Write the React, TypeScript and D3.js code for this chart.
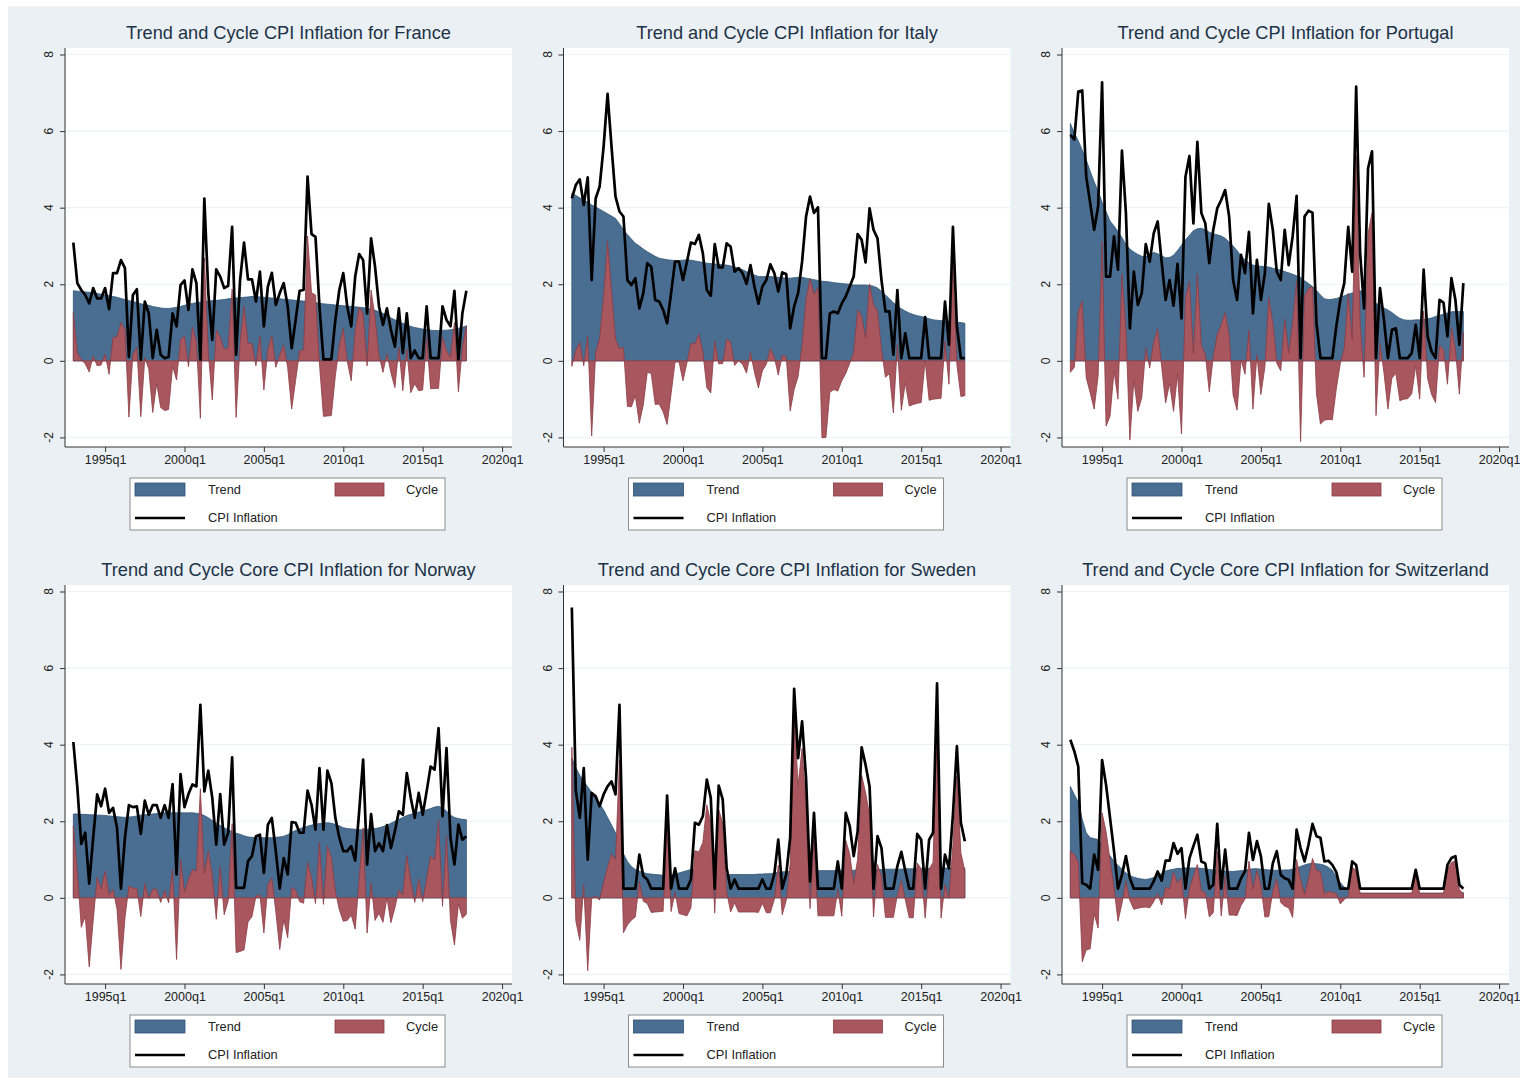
import React, { useRef, useLayoutEffect } from 'react';
import * as d3 from 'd3';

// quarters counted from 1995q1 (= 0); every sample runs 1993q1 .. 2017q4
const firstQuarter = -8;
const xTicks = [0, 20, 40, 60, 80, 100];
const xTickLabels = ['1995q1', '2000q1', '2005q1', '2010q1', '2015q1', '2020q1'];
const yTicks = [-2, 0, 2, 4, 6, 8];
const legendLabels = ['Trend', 'Cycle', 'CPI Inflation'];

const titles = [
    'Trend and Cycle CPI Inflation for France',
    'Trend and Cycle CPI Inflation for Italy',
    'Trend and Cycle CPI Inflation for Portugal',
    'Trend and Cycle Core CPI Inflation for Norway',
    'Trend and Cycle Core CPI Inflation for Sweden',
    'Trend and Cycle Core CPI Inflation for Switzerland'
];

const franceInflation = [
    3.09, 2.03, 1.85, 1.72, 1.5, 1.9, 1.63, 1.63, 1.9, 1.35,
    2.29, 2.29, 2.63, 2.42, 0.1, 1.72, 1.87, 0.03, 1.55, 1.24,
    0.07, 0.81, 0.16, 0.07, 0.1, 1.24, 0.9, 1.98, 2.1, 1.33,
    2.39, 2.03, 0.03, 4.24, 1.77, 0.55, 2.39, 2.2, 1.9, 1.96,
    3.5, 0.16, 2.1, 3.09, 2.13, 2.13, 1.55, 2.33, 0.9, 1.94,
    2.3, 1.46, 1.77, 2.03, 1.42, 0.33, 1.07, 1.83, 1.85, 4.81,
    3.31, 3.24, 1.42, 0.04, 0.04, 0.04, 1.07, 1.85, 2.29, 1.42,
    0.9, 2.2, 2.79, 2.63, 1.24, 3.2, 2.46, 1.42, 0.94, 1.37,
    0.81, 0.37, 1.37, 0.2, 1.24, 0.07, 0.27, 0.07, 0.07, 1.42,
    0.07, 0.07, 0.07, 1.42, 1.07, 0.9, 1.83, 0.04, 1.24, 1.83
];
const franceTrend = [
    1.83, 1.82, 1.81, 1.8, 1.79, 1.77, 1.76, 1.74, 1.72, 1.7,
    1.68, 1.66, 1.63, 1.6, 1.57, 1.55, 1.52, 1.49, 1.47, 1.45,
    1.42, 1.4, 1.38, 1.37, 1.37, 1.38, 1.4, 1.42, 1.45, 1.48,
    1.5, 1.52, 1.53, 1.55, 1.56, 1.57, 1.58, 1.59, 1.6, 1.62,
    1.63, 1.64, 1.65, 1.66, 1.67, 1.68, 1.68, 1.67, 1.66, 1.65,
    1.64, 1.63, 1.62, 1.61, 1.6, 1.59, 1.58, 1.57, 1.56, 1.55,
    1.53, 1.52, 1.5, 1.49, 1.48, 1.47, 1.46, 1.45, 1.44, 1.43,
    1.42, 1.41, 1.4, 1.39, 1.37, 1.35, 1.32, 1.28, 1.24, 1.18,
    1.12, 1.07, 1.02, 0.98, 0.94, 0.9, 0.87, 0.85, 0.83, 0.82,
    0.8, 0.79, 0.79, 0.8, 0.8, 0.81, 0.83, 0.85, 0.88, 0.91
];
const franceCycle = [
    1.26, 0.21, 0.04, -0.08, -0.29, 0.13, -0.13, -0.11, 0.18, -0.35,
    0.61, 0.63, 1.0, 0.82, -1.47, 0.17, 0.35, -1.46, 0.08, -0.21,
    -1.35, -0.59, -1.22, -1.3, -1.27, -0.14, -0.5, 0.56, 0.65, -0.15,
    0.89, 0.51, -1.5, 2.69, 0.21, -1.02, 0.81, 0.61, 0.3, 0.34,
    1.87, -1.48, 0.45, 1.43, 0.46, 0.45, -0.13, 0.66, -0.76, 0.29,
    0.66, -0.17, 0.15, 0.42, -0.18, -1.26, -0.51, 0.26, 0.29, 3.26,
    1.78, 1.72, -0.08, -1.45, -1.44, -1.43, -0.39, 0.4, 0.85, -0.01,
    -0.52, 0.79, 1.39, 1.24, -0.13, 1.85, 1.14, 0.14, -0.3, 0.19,
    -0.31, -0.7, 0.35, -0.78, 0.3, -0.83, -0.6, -0.78, -0.76, 0.6,
    -0.73, -0.72, -0.72, 0.62, 0.27, 0.09, 1.0, -0.81, 0.36, 0.92
];

const italyInflation = [
    4.24, 4.59, 4.74, 4.07, 4.79, 2.11, 4.24, 4.55, 5.59, 6.97,
    5.59, 4.29, 3.9, 3.77, 2.11, 1.98, 2.16, 1.37, 1.77, 2.55,
    2.46, 1.59, 1.55, 1.33, 0.98, 1.77, 2.59, 2.59, 2.11, 2.59,
    3.09, 3.05, 3.29, 2.81, 1.85, 1.7, 3.05, 2.44, 2.44, 3.07,
    2.98, 2.33, 2.42, 2.29, 2.01, 2.5, 1.94, 1.49, 1.94, 2.11,
    2.52, 2.29, 1.81, 2.31, 2.27, 0.85, 1.42, 1.77, 2.59, 3.77,
    4.29, 3.86, 4.01, 0.07, 0.07, 1.24, 1.29, 1.24, 1.5, 1.68,
    1.94, 2.2, 3.31, 3.16, 2.57, 3.98, 3.42, 3.2, 2.11, 1.29,
    1.29, 0.16, 1.85, 0.07, 0.72, 0.07, 0.07, 0.07, 0.07, 1.14,
    0.07, 0.07, 0.07, 0.07, 1.55, 0.42, 3.5, 0.9, 0.07, 0.07
];
const italyTrend = [
    4.38, 4.32, 4.26, 4.2, 4.14, 4.07, 4.02, 3.96, 3.9, 3.84,
    3.78, 3.72, 3.58, 3.42, 3.3, 3.18, 3.07, 3.0, 2.92, 2.85,
    2.79, 2.73, 2.68, 2.66, 2.64, 2.63, 2.62, 2.62, 2.63, 2.64,
    2.63, 2.61, 2.59, 2.57, 2.55, 2.54, 2.53, 2.52, 2.51, 2.5,
    2.48, 2.45, 2.42, 2.38, 2.33, 2.28, 2.24, 2.2, 2.2, 2.2,
    2.2, 2.19, 2.18, 2.17, 2.16, 2.16, 2.17, 2.18, 2.18, 2.16,
    2.14, 2.12, 2.1, 2.08, 2.07, 2.06, 2.04, 2.03, 2.02, 2.01,
    2.0, 1.98, 1.98, 1.98, 1.98, 1.97, 1.95, 1.9, 1.82, 1.72,
    1.62, 1.52, 1.43, 1.36, 1.3, 1.25, 1.21, 1.18, 1.16, 1.13,
    1.1, 1.07, 1.06, 1.05, 1.04, 1.03, 1.02, 1.01, 1.0, 0.98
];
const italyCycle = [
    -0.14, 0.27, 0.48, -0.13, 0.65, -1.96, 0.22, 0.59, 1.69, 3.13,
    1.81, 0.57, 0.32, 0.35, -1.19, -1.2, -0.91, -1.63, -1.15, -0.3,
    -0.33, -1.14, -1.13, -1.33, -1.66, -0.86, -0.03, -0.03, -0.52, -0.05,
    0.46, 0.44, 0.7, 0.24, -0.7, -0.84, 0.52, -0.08, -0.07, 0.57,
    0.5, -0.12, 0.0, -0.09, -0.32, 0.22, -0.3, -0.71, -0.26, -0.09,
    0.32, 0.1, -0.37, 0.14, 0.11, -1.31, -0.75, -0.41, 0.41, 1.61,
    2.15, 1.74, 1.91, -2.01, -2.0, -0.82, -0.75, -0.79, -0.52, -0.33,
    -0.06, 0.22, 1.33, 1.18, 0.59, 2.01, 1.47, 1.3, 0.29, -0.43,
    -0.33, -1.36, 0.42, -1.29, -0.58, -1.18, -1.14, -1.11, -1.09, 0.01,
    -1.03, -1.0, -0.99, -0.98, 0.51, -0.61, 2.48, -0.11, -0.93, -0.91
];

const portugalInflation = [
    5.9, 5.78, 7.03, 7.06, 4.81, 4.12, 3.42, 4.03, 7.27, 2.2,
    2.2, 3.25, 2.38, 5.49, 3.86, 0.85, 2.33, 1.46, 1.77, 3.05,
    2.59, 3.33, 3.64, 2.59, 1.59, 2.11, 1.44, 2.53, 1.11, 4.81,
    5.35, 3.59, 5.72, 3.86, 3.59, 2.55, 3.42, 3.98, 4.2, 4.46,
    3.77, 2.11, 1.59, 2.77, 2.29, 3.37, 1.24, 2.64, 1.59, 2.29,
    4.1, 3.42, 2.33, 2.11, 3.42, 2.5, 3.25, 4.31, 0.07, 3.77,
    3.92, 3.87, 0.98, 0.07, 0.07, 0.07, 0.07, 0.9, 1.59, 2.03,
    3.5, 2.33, 7.16, 2.81, 1.37, 5.03, 5.47, 0.07, 1.9, 1.07,
    0.07, 0.81, 0.85, 0.07, 0.07, 0.07, 0.2, 0.94, 0.07, 2.38,
    0.64, 0.24, 0.07, 1.59, 1.52, 0.64, 2.16, 1.59, 0.42, 2.03
];
const portugalTrend = [
    6.2, 5.95, 5.75, 5.5, 5.25, 4.95, 4.68, 4.42, 4.15, 3.9,
    3.65, 3.52, 3.38, 3.22, 3.04, 2.92, 2.84, 2.78, 2.73, 2.72,
    2.78, 2.83, 2.8, 2.74, 2.69, 2.7, 2.76, 2.88, 3.02, 3.16,
    3.28, 3.4, 3.45, 3.46, 3.42, 3.36, 3.32, 3.29, 3.26, 3.2,
    3.1, 3.0, 2.88, 2.74, 2.64, 2.56, 2.5, 2.48, 2.47, 2.46,
    2.45, 2.42, 2.39, 2.37, 2.33, 2.3, 2.26, 2.22, 2.18, 2.09,
    2.02, 1.94, 1.84, 1.72, 1.62, 1.6, 1.61, 1.63, 1.66, 1.7,
    1.74, 1.77, 1.8, 1.83, 1.8, 1.7, 1.6, 1.5, 1.44, 1.38,
    1.33, 1.26, 1.18, 1.11, 1.07, 1.06, 1.06, 1.07, 1.07, 1.08,
    1.1, 1.12, 1.16, 1.19, 1.22, 1.25, 1.28, 1.29, 1.29, 1.29
];
const portugalCycle = [
    -0.3, -0.17, 1.28, 1.56, -0.44, -0.83, -1.26, -0.39, 3.12, -1.7,
    -1.45, -0.27, -1.0, 2.27, 0.82, -2.07, -0.51, -1.32, -0.96, 0.33,
    -0.19, 0.5, 0.84, -0.15, -1.1, -0.59, -1.32, -0.35, -1.91, 1.65,
    2.07, 0.19, 2.27, 0.4, 0.17, -0.81, 0.1, 0.69, 0.94, 1.26,
    0.67, -0.89, -1.29, 0.03, -0.35, 0.81, -1.26, 0.16, -0.88, -0.17,
    1.65, 1.0, -0.06, -0.26, 1.09, 0.2, 0.99, 2.09, -2.11, 1.68,
    1.9, 1.93, -0.86, -1.65, -1.55, -1.53, -1.54, -0.73, -0.07, 0.33,
    1.76, 0.56, 5.36, 0.98, -0.43, 3.33, 3.87, -1.43, 0.46, -0.31,
    -1.26, -0.45, -0.33, -1.04, -1.0, -0.99, -0.86, -0.13, -1.0, 1.3,
    -0.46, -0.88, -1.09, 0.4, 0.3, -0.61, 0.88, 0.3, -0.87, 0.74
];

const norwayInflation = [
    4.07, 2.9, 1.41, 1.7, 0.37, 1.57, 2.7, 2.39, 2.85, 2.22,
    2.35, 1.83, 0.24, 1.57, 2.42, 2.37, 2.39, 1.67, 2.54, 2.17,
    2.42, 2.42, 2.09, 2.42, 2.09, 2.97, 0.61, 3.23, 2.37, 2.71,
    2.96, 2.91, 5.04, 2.78, 3.32, 2.61, 1.39, 2.71, 1.39, 1.7,
    3.67, 0.26, 0.26, 0.26, 0.96, 1.09, 1.61, 1.65, 0.65, 1.91,
    2.09, 1.22, 0.24, 1.04, 0.61, 1.98, 1.96, 1.7, 1.7, 2.8,
    2.43, 1.78, 3.39, 1.78, 3.32, 3.0, 2.09, 1.57, 1.22, 1.22,
    1.35, 0.97, 2.26, 3.61, 0.87, 2.19, 1.22, 1.43, 1.22, 1.9,
    1.3, 1.74, 2.26, 2.17, 3.26, 2.61, 2.09, 2.74, 2.17, 2.78,
    3.43, 3.35, 4.43, 2.13, 3.91, 1.57, 0.87, 1.91, 1.52, 1.61
];
const norwayTrend = [
    2.19, 2.19, 2.18, 2.18, 2.17, 2.17, 2.16, 2.16, 2.15, 2.14,
    2.13, 2.12, 2.11, 2.1, 2.11, 2.12, 2.14, 2.16, 2.17, 2.18,
    2.19, 2.2, 2.21, 2.22, 2.22, 2.22, 2.22, 2.22, 2.22, 2.22,
    2.22, 2.21, 2.19, 2.15, 2.09, 2.02, 1.95, 1.89, 1.83, 1.78,
    1.73, 1.69, 1.66, 1.62, 1.59, 1.58, 1.57, 1.57, 1.57, 1.57,
    1.57, 1.58, 1.59, 1.61, 1.65, 1.71, 1.76, 1.8, 1.84, 1.87,
    1.9, 1.93, 1.94, 1.95, 1.96, 1.95, 1.92, 1.88, 1.83, 1.81,
    1.8, 1.79, 1.78, 1.78, 1.79, 1.8, 1.81, 1.83, 1.86, 1.9,
    1.95, 2.0, 2.05, 2.1, 2.15, 2.18, 2.21, 2.24, 2.27, 2.3,
    2.33, 2.37, 2.39, 2.35, 2.27, 2.16, 2.1, 2.07, 2.05, 2.04
];
const norwayCycle = [
    1.88, 0.71, -0.77, -0.48, -1.8, -0.6, 0.54, 0.23, 0.7, 0.08,
    0.22, -0.29, -1.87, -0.53, 0.31, 0.25, 0.25, -0.49, 0.37, -0.01,
    0.23, 0.22, -0.12, 0.2, -0.13, 0.75, -1.61, 1.01, 0.15, 0.49,
    0.74, 0.7, 2.85, 0.63, 1.23, 0.59, -0.56, 0.82, -0.44, -0.08,
    1.94, -1.43, -1.4, -1.36, -0.63, -0.49, 0.04, 0.08, -0.92, 0.34,
    0.52, -0.36, -1.35, -0.57, -1.04, 0.27, 0.2, -0.1, -0.14, 0.93,
    0.53, -0.15, 1.45, -0.17, 1.36, 1.05, 0.17, -0.31, -0.61, -0.59,
    -0.45, -0.82, 0.48, 1.83, -0.92, 0.39, -0.59, -0.4, -0.64, 0.0,
    -0.65, -0.26, 0.21, 0.07, 1.11, 0.43, -0.12, 0.5, -0.1, 0.48,
    1.1, 0.98, 2.04, -0.22, 1.64, -0.59, -1.23, -0.16, -0.53, -0.43
];

const swedenInflation = [
    7.58, 2.8, 2.09, 3.39, 1.0, 2.74, 2.65, 2.39, 2.7, 2.91,
    3.04, 2.7, 5.04, 0.24, 0.24, 0.24, 0.24, 1.13, 0.57, 0.48,
    0.24, 0.24, 0.24, 0.24, 2.67, 0.24, 0.77, 0.24, 0.24, 0.24,
    0.48, 1.96, 1.91, 2.13, 3.09, 2.61, 0.24, 2.93, 2.57, 0.77,
    0.24, 0.48, 0.24, 0.24, 0.24, 0.24, 0.24, 0.24, 0.48, 0.24,
    0.24, 0.61, 1.52, 0.24, 0.61, 1.57, 5.46, 3.65, 4.61, 3.13,
    0.43, 2.22, 0.24, 0.24, 0.24, 0.24, 0.24, 0.95, 0.24, 2.22,
    1.87, 1.09, 1.74, 3.93, 3.47, 2.91, 0.24, 1.61, 1.3, 0.24,
    0.24, 0.24, 0.83, 1.2, 0.71, 0.24, 0.24, 1.67, 1.52, 0.24,
    1.52, 1.7, 5.6, 0.24, 1.13, 0.77, 2.17, 3.96, 1.96, 1.48
];
const swedenTrend = [
    3.65, 3.4, 3.2, 3.05, 2.9, 2.75, 2.6, 2.45, 2.3, 2.1,
    1.9, 1.7, 1.45, 1.15, 0.95, 0.82, 0.74, 0.7, 0.66, 0.63,
    0.62, 0.61, 0.6, 0.59, 0.59, 0.6, 0.62, 0.65, 0.68, 0.71,
    0.74, 0.73, 0.71, 0.68, 0.66, 0.65, 0.64, 0.63, 0.62, 0.61,
    0.61, 0.61, 0.61, 0.61, 0.61, 0.61, 0.61, 0.62, 0.62, 0.63,
    0.63, 0.65, 0.67, 0.68, 0.68, 0.69, 0.7, 0.7, 0.71, 0.71,
    0.71, 0.71, 0.71, 0.71, 0.71, 0.71, 0.71, 0.72, 0.72, 0.72,
    0.72, 0.72, 0.73, 0.73, 0.73, 0.74, 0.74, 0.74, 0.74, 0.75,
    0.75, 0.75, 0.75, 0.75, 0.76, 0.76, 0.76, 0.76, 0.76, 0.77,
    0.77, 0.77, 0.77, 0.77, 0.78, 0.78, 0.78, 0.78, 0.78, 0.78
];
const swedenCycle = [
    3.93, -0.6, -1.11, 0.34, -1.9, -0.01, 0.05, -0.06, 0.4, 0.81,
    1.14, 1.0, 3.59, -0.91, -0.71, -0.58, -0.5, 0.43, -0.09, -0.15,
    -0.38, -0.37, -0.36, -0.35, 2.08, -0.36, 0.15, -0.41, -0.44, -0.47,
    -0.26, 1.23, 1.2, 1.45, 2.43, 1.96, -0.4, 2.3, 1.95, 0.16,
    -0.37, -0.13, -0.37, -0.37, -0.37, -0.37, -0.37, -0.38, -0.14, -0.39,
    -0.39, -0.04, 0.85, -0.44, -0.07, 0.88, 4.76, 2.95, 3.9, 2.42,
    -0.28, 1.51, -0.47, -0.47, -0.47, -0.47, -0.47, 0.23, -0.48, 1.5,
    1.15, 0.37, 1.01, 3.2, 2.74, 2.17, -0.5, 0.87, 0.56, -0.51,
    -0.51, -0.51, 0.08, 0.45, -0.05, -0.52, -0.52, 0.91, 0.76, -0.53,
    0.75, 0.93, 4.83, -0.53, 0.35, -0.01, 1.39, 3.18, 1.18, 0.7
];

const switzerlandInflation = [
    4.13, 3.83, 3.43, 0.38, 0.34, 0.24, 1.13, 0.73, 3.6, 2.95,
    2.09, 1.22, 0.24, 0.6, 1.09, 0.51, 0.24, 0.24, 0.24, 0.24,
    0.24, 0.43, 0.69, 0.45, 0.97, 0.97, 1.43, 1.15, 1.3, 0.24,
    1.03, 1.35, 1.65, 0.95, 0.9, 0.24, 0.34, 1.93, 0.24, 1.26,
    0.24, 0.24, 0.24, 0.51, 0.69, 1.7, 0.99, 1.48, 1.09, 0.24,
    0.24, 0.9, 1.22, 0.6, 0.51, 0.47, 0.24, 1.78, 1.3, 0.95,
    1.39, 1.93, 1.61, 1.57, 0.95, 0.97, 0.86, 0.67, 0.24, 0.24,
    0.24, 0.95, 0.86, 0.24, 0.24, 0.24, 0.24, 0.24, 0.24, 0.24,
    0.24, 0.24, 0.24, 0.24, 0.24, 0.24, 0.24, 0.73, 0.24, 0.24,
    0.24, 0.24, 0.24, 0.24, 0.24, 0.86, 1.04, 1.09, 0.34, 0.24
];
const switzerlandTrend = [
    2.91, 2.7, 2.5, 2.05, 1.7, 1.57, 1.55, 1.52, 1.38, 1.22,
    1.1, 0.95, 0.85, 0.75, 0.65, 0.58, 0.54, 0.51, 0.49, 0.48,
    0.5, 0.53, 0.58, 0.64, 0.7, 0.73, 0.75, 0.77, 0.77, 0.78,
    0.78, 0.78, 0.78, 0.77, 0.76, 0.74, 0.73, 0.72, 0.71, 0.7,
    0.69, 0.69, 0.7, 0.71, 0.72, 0.74, 0.76, 0.76, 0.75, 0.74,
    0.73, 0.72, 0.72, 0.72, 0.73, 0.73, 0.75, 0.78, 0.82, 0.86,
    0.89, 0.9, 0.89, 0.88, 0.85, 0.8, 0.72, 0.55, 0.4, 0.28,
    0.2, 0.16, 0.14, 0.12, 0.12, 0.12, 0.12, 0.12, 0.12, 0.12,
    0.12, 0.12, 0.12, 0.12, 0.12, 0.12, 0.12, 0.12, 0.12, 0.12,
    0.12, 0.12, 0.12, 0.12, 0.12, 0.12, 0.12, 0.12, 0.12, 0.14
];
const switzerlandCycle = [
    1.22, 1.13, 0.93, -1.67, -1.36, -1.33, -0.42, -0.79, 2.22, 1.73,
    0.99, 0.27, -0.61, -0.15, 0.44, -0.07, -0.3, -0.27, -0.25, -0.24,
    -0.26, -0.1, 0.11, -0.19, 0.27, 0.24, 0.68, 0.38, 0.53, -0.54,
    0.25, 0.57, 0.87, 0.18, 0.14, -0.5, -0.39, 1.21, -0.47, 0.56,
    -0.45, -0.45, -0.46, -0.2, -0.03, 0.96, 0.23, 0.72, 0.34, -0.5,
    -0.49, 0.18, 0.5, -0.12, -0.22, -0.26, -0.51, 1.0, 0.48, 0.09,
    0.5, 1.03, 0.72, 0.69, 0.1, 0.17, 0.14, 0.12, -0.16, -0.04,
    0.04, 0.79, 0.72, 0.12, 0.12, 0.12, 0.12, 0.12, 0.12, 0.12,
    0.12, 0.12, 0.12, 0.12, 0.12, 0.12, 0.12, 0.61, 0.12, 0.12,
    0.12, 0.12, 0.12, 0.12, 0.12, 0.74, 0.92, 0.97, 0.22, 0.1
];

const panels = [
    { title: titles[0], trend: franceTrend, cycle: franceCycle, inflation: franceInflation },
    { title: titles[1], trend: italyTrend, cycle: italyCycle, inflation: italyInflation },
    { title: titles[2], trend: portugalTrend, cycle: portugalCycle, inflation: portugalInflation },
    { title: titles[3], trend: norwayTrend, cycle: norwayCycle, inflation: norwayInflation },
    { title: titles[4], trend: swedenTrend, cycle: swedenCycle, inflation: swedenInflation },
    { title: titles[5], trend: switzerlandTrend, cycle: switzerlandCycle, inflation: switzerlandInflation }
];

const colors = {
    background: '#eaf0f3',
    grid: '#edf2f4',
    trend: '#4a6e91',
    trendEdge: '#2f5476',
    cycle: '#a9575f',
    cycleEdge: '#8c3b44',
    inflation: '#000000',
    title: '#1c3247',
    axis: '#333333'
};

const font = '"Liberation Sans", Arial, sans-serif';

const TrendCycleGrid = () => {
    const svgRef = useRef(null);

    useLayoutEffect(() => {
        const svg = d3.select(svgRef.current);
        svg.selectAll('*').remove();

        // graph region
        svg.append('rect')
            .attr('x', 8).attr('y', 6)
            .attr('width', 1512).attr('height', 1072)
            .attr('fill', colors.background);

        const plotW = 447;
        const plotH = 399;

        panels.forEach((p, k) => {
            const left = 65 + (k % 3) * 498.5;
            const top = k < 3 ? 48 : 585;

            const x = d3.scaleLinear().domain([-10.1, 102.5]).range([0, plotW]);
            const y = d3.scaleLinear().domain([-2.25, 8.17]).range([plotH, 0]);
            const quarter = (i) => firstQuarter + i;

            const g = svg.append('g')
                .attr('transform', `translate(${left},${top})`)
                .attr('font-family', font);

            // white plot region
            g.append('rect')
                .attr('width', plotW)
                .attr('height', plotH)
                .attr('fill', '#ffffff');

            // horizontal grid
            g.append('g')
                .selectAll('line')
                .data(yTicks)
                .join('line')
                .attr('x1', 0).attr('x2', plotW)
                .attr('y1', d => y(d)).attr('y2', d => y(d))
                .attr('stroke', colors.grid)
                .attr('stroke-width', 1.2);

            // trend area
            const area = d3.area()
                .x((d, i) => x(quarter(i)))
                .y0(y(0))
                .y1(d => y(d));

            g.append('path')
                .datum(p.trend)
                .attr('d', area)
                .attr('fill', colors.trend)
                .attr('stroke', colors.trendEdge)
                .attr('stroke-width', 0.8);

            // cycle area on top
            g.append('path')
                .datum(p.cycle)
                .attr('d', area)
                .attr('fill', colors.cycle)
                .attr('stroke', colors.cycleEdge)
                .attr('stroke-width', 0.8)
                .attr('stroke-linejoin', 'round');

            // inflation line
            const line = d3.line()
                .x((d, i) => x(quarter(i)))
                .y(d => y(d));

            g.append('path')
                .datum(p.inflation)
                .attr('d', line)
                .attr('fill', 'none')
                .attr('stroke', colors.inflation)
                .attr('stroke-width', 2.7)
                .attr('stroke-linejoin', 'round');

            // x axis
            const xAxis = g.append('g')
                .attr('transform', `translate(0,${plotH})`)
                .call(d3.axisBottom(x)
                    .tickValues(xTicks)
                    .tickFormat((d, i) => xTickLabels[i])
                    .tickSize(5)
                    .tickSizeOuter(0));
            xAxis.select('.domain').attr('stroke', colors.axis).attr('d', `M0,0H${plotW}`);
            xAxis.selectAll('line').attr('stroke', colors.axis);
            xAxis.selectAll('text')
                .attr('y', 8)
                .attr('font-size', 12.5)
                .attr('font-family', font)
                .attr('fill', '#222');

            // y axis with vertical labels
            const yAxis = g.append('g')
                .call(d3.axisLeft(y)
                    .tickValues(yTicks)
                    .tickFormat(() => '')
                    .tickSize(5)
                    .tickSizeOuter(0));
            yAxis.select('.domain').attr('stroke', colors.axis).attr('d', `M0,0V${plotH}`);
            yAxis.selectAll('line').attr('stroke', colors.axis);

            g.append('g')
                .selectAll('text')
                .data(yTicks)
                .join('text')
                .attr('transform', d => `translate(-16,${y(d)}) rotate(-90)`)
                .attr('text-anchor', 'middle')
                .attr('dy', '0.35em')
                .attr('font-size', 12)
                .attr('fill', '#222')
                .text(d => d);

            // title
            g.append('text')
                .attr('x', plotW / 2)
                .attr('y', -15)
                .attr('dy', '0.35em')
                .attr('text-anchor', 'middle')
                .attr('font-size', 18.2)
                .attr('fill', colors.title)
                .text(p.title);

            // legend
            const legend = g.append('g')
                .attr('transform', `translate(65,${plotH + 31})`)
                .attr('font-size', 12.8)
                .attr('fill', '#222');

            legend.append('rect')
                .attr('width', 315).attr('height', 52)
                .attr('fill', '#ffffff')
                .attr('stroke', '#8c8c8c')
                .attr('stroke-width', 1);

            legend.append('rect')
                .attr('x', 5).attr('y', 5)
                .attr('width', 50).attr('height', 13)
                .attr('fill', colors.trend)
                .attr('stroke', colors.trendEdge)
                .attr('stroke-width', 0.8);
            legend.append('text')
                .attr('x', 78).attr('y', 12).attr('dy', '0.35em')
                .text(legendLabels[0]);

            legend.append('rect')
                .attr('x', 205).attr('y', 5)
                .attr('width', 49).attr('height', 13)
                .attr('fill', colors.cycle)
                .attr('stroke', colors.cycleEdge)
                .attr('stroke-width', 0.8);
            legend.append('text')
                .attr('x', 276).attr('y', 12).attr('dy', '0.35em')
                .text(legendLabels[1]);

            legend.append('line')
                .attr('x1', 5).attr('x2', 55)
                .attr('y1', 40).attr('y2', 40)
                .attr('stroke', colors.inflation)
                .attr('stroke-width', 2.7);
            legend.append('text')
                .attr('x', 78).attr('y', 40).attr('dy', '0.35em')
                .text(legendLabels[2]);
        });
    }, []);

    return (
        <svg
            ref={svgRef}
            width={1520}
            height={1078}
            style={{ position: 'absolute', left: 0, top: 0, background: '#ffffff' }}
        />
    );
};

export default TrendCycleGrid;
